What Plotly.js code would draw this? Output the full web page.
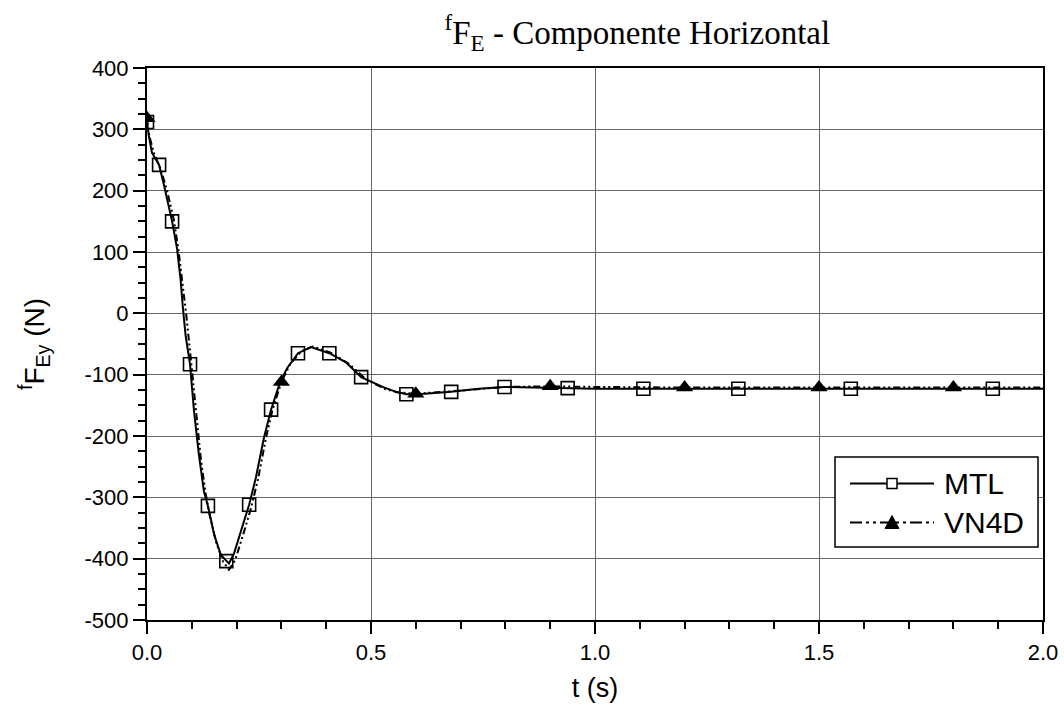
<!DOCTYPE html>
<html>
<head>
<meta charset="utf-8">
<script src="https://cdn.plot.ly/plotly-3.0.1.min.js"></script>
<style>html,body{margin:0;padding:0;background:#fff;}#chart{width:1064px;height:713px;}</style>
</head>
<body>
<div id="chart"></div>
<script>
// MTL curve
const mtlT = [0, 0.004, 0.011, 0.027, 0.038, 0.056, 0.067, 0.075, 0.080, 0.086, 0.096, 0.105, 0.116, 0.127, 0.136, 0.150, 0.165, 0.177, 0.183, 0.194, 0.212, 0.228, 0.243, 0.261, 0.277, 0.297, 0.313, 0.337, 0.366, 0.407, 0.444, 0.478, 0.526, 0.556, 0.579, 0.62, 0.679, 0.74, 0.798, 0.86, 0.939, 1.0, 1.108, 1.2, 1.32, 1.45, 1.571, 1.7, 1.888, 2.0];
const mtlF = [312, 290, 262, 242, 209, 150, 106, 55, 10, -35, -83, -160, -231, -290, -314, -361, -394, -404, -408, -392, -348, -312, -268, -203, -157, -112, -89, -65, -55, -65, -80, -104, -120, -128, -132, -131, -128, -123, -120, -121, -122, -123, -123, -123, -123, -123, -123, -123, -123, -123];
// MTL marker points
const mtlMarkT = [0, 0.027, 0.056, 0.096, 0.136, 0.177, 0.228, 0.277, 0.337, 0.407, 0.478, 0.579, 0.679, 0.798, 0.939, 1.108, 1.32, 1.571, 1.888];
const mtlMarkF = [312, 242, 150, -83, -314, -404, -312, -157, -65, -65, -104, -132, -128, -120, -122, -123, -123, -123, -123];
// VN4D curve
const vn4dT = [0, 0.005, 0.015, 0.03, 0.045, 0.06, 0.07, 0.08, 0.088, 0.1, 0.11, 0.12, 0.13, 0.14, 0.155, 0.17, 0.183, 0.197, 0.215, 0.232, 0.248, 0.265, 0.28, 0.3, 0.32, 0.345, 0.37, 0.41, 0.45, 0.49, 0.53, 0.56, 0.6, 0.65, 0.7, 0.8, 0.9, 1.0, 1.2, 1.5, 1.8, 2.0];
const vn4dF = [318, 290, 262, 236, 200, 152, 105, 45, -5, -90, -165, -236, -290, -330, -375, -405, -418, -402, -360, -318, -270, -205, -158, -112, -82, -62, -54, -64, -82, -108, -123, -129, -131, -129, -126, -120, -119, -120, -121, -121, -121, -121];
// VN4D marker points
const vn4dMarkT = [0, 0.3, 0.6, 0.9, 1.2, 1.5, 1.8];
const vn4dMarkF = [318, -112, -131, -119, -121, -121, -121];

const seriesNames = ['MTL', 'VN4D'];
const yTickVals = [400, 300, 200, 100, 0, -100, -200, -300, -400, -500];
const yTickText = ['400', '300', '200', '100', '0', '-100', '-200', '-300', '-400', '-500'];

const DASH_VN = '7px,3px,2px,3px,2px,3px';

const traces = [
  {x: vn4dT, y: vn4dF, type: 'scatter', mode: 'lines', showlegend: false,
   line: {color: '#000', width: 2, dash: DASH_VN}},
  {x: mtlT, y: mtlF, type: 'scatter', mode: 'lines', showlegend: false,
   line: {color: '#000', width: 2}},
  {x: mtlMarkT, y: mtlMarkF, type: 'scatter', mode: 'markers', showlegend: false,
   marker: {symbol: 'square-open', size: 13, color: '#000', line: {width: 1.6, color: '#000'}}},
  {x: vn4dMarkT, y: vn4dMarkF, type: 'scatter', mode: 'markers', showlegend: false,
   marker: {symbol: 'triangle-up', size: 15, color: '#000'}}
];

// plot-area geometry (pixels) for the hand-drawn legend
const L = 147, R = 1043, T = 68, B = 620;
const px = v => (v - L) / (R - L);
const py = v => (B - v) / (B - T);

const legBox = {x0: 835, x1: 1038, y0: 457, y1: 547};
const rowsY = [483.5, 522.5];
const lineX0 = 850, lineX1 = 934, symX = 892, textX = 942;

const shapes = [
  {type: 'rect', xref: 'paper', yref: 'paper', x0: px(legBox.x0), x1: px(legBox.x1), y0: py(legBox.y1), y1: py(legBox.y0),
   line: {color: '#000', width: 1.5}, fillcolor: '#fff', layer: 'above'},
  {type: 'line', xref: 'paper', yref: 'paper', x0: px(lineX0), x1: px(lineX1), y0: py(rowsY[0]), y1: py(rowsY[0]),
   line: {color: '#000', width: 2}, layer: 'above'},
  {type: 'rect', xref: 'paper', yref: 'paper', x0: px(symX - 5), x1: px(symX + 5), y0: py(rowsY[0] + 5), y1: py(rowsY[0] - 5),
   line: {color: '#000', width: 1.5}, fillcolor: '#fff', layer: 'above'},
  {type: 'line', xref: 'paper', yref: 'paper', x0: px(lineX0), x1: px(lineX1), y0: py(rowsY[1]), y1: py(rowsY[1]),
   line: {color: '#000', width: 2, dash: '12px,4px,3px,4px,3px,4px'}, layer: 'above'},
  {type: 'path', xref: 'paper', yref: 'paper',
   path: 'M' + px(symX - 7) + ',' + py(rowsY[1] + 6) + ' L' + px(symX + 7) + ',' + py(rowsY[1] + 6) + ' L' + px(symX) + ',' + py(rowsY[1] - 7) + ' Z',
   line: {color: '#000', width: 1}, fillcolor: '#000', layer: 'above'}
];

const annotations = seriesNames.map((n, i) => ({
  xref: 'paper', yref: 'paper', x: px(textX), y: py(rowsY[i]), xanchor: 'left', yanchor: 'middle',
  text: n, showarrow: false, font: {size: 30, color: '#000', family: 'Liberation Sans, Arial, sans-serif'}
}));

const layout = {
  width: 1064, height: 713,
  margin: {l: L, r: 1064 - R, t: T, b: 713 - B},
  paper_bgcolor: '#fff', plot_bgcolor: '#fff',
  font: {family: 'Liberation Sans, Arial, sans-serif', color: '#000'},
  showlegend: false,
  title: {text: '<sup>f</sup>F<sub>E</sub> - Componente Horizontal',
    font: {family: 'Liberation Serif, Times New Roman, serif', size: 33, color: '#000'},
    x: 0.599, xref: 'container', xanchor: 'center', y: 0.955, yref: 'container', yanchor: 'middle'},
  xaxis: {
    range: [0, 2.0], dtick: 0.5, tickformat: '.1f', tick0: 0,
    showline: true, linecolor: '#000', linewidth: 2, mirror: true,
    ticks: 'outside', ticklen: 12, tickwidth: 2, tickcolor: '#000',
    minor: {dtick: 0.1, tick0: 0, ticks: 'outside', ticklen: 7, tickwidth: 2, tickcolor: '#000', showgrid: false},
    showgrid: true, gridcolor: '#666', gridwidth: 1, zeroline: false,
    tickfont: {size: 22, color: '#000'},
    title: {text: 't (s)', font: {size: 27, color: '#000'}, standoff: 14}
  },
  yaxis: {
    range: [-500, 400], tickmode: 'array', tickvals: yTickVals, ticktext: yTickText,
    showline: true, linecolor: '#000', linewidth: 2, mirror: true,
    ticks: 'outside', ticklen: 12, tickwidth: 2, tickcolor: '#000',
    minor: {tickmode: 'linear', dtick: 25, tick0: 0, ticks: 'outside', ticklen: 7, tickwidth: 2, tickcolor: '#000', showgrid: false},
    showgrid: true, gridcolor: '#666', gridwidth: 1, zeroline: false,
    tickfont: {size: 22, color: '#000'},
    title: {text: '<sup>f</sup>F<sub>Ey</sub> (N)', font: {size: 28, color: '#000'}, standoff: 32}
  },
  shapes: shapes,
  annotations: annotations
};

Plotly.newPlot('chart', traces, layout, {displayModeBar: false, staticPlot: true});
</script>
</body>
</html>
